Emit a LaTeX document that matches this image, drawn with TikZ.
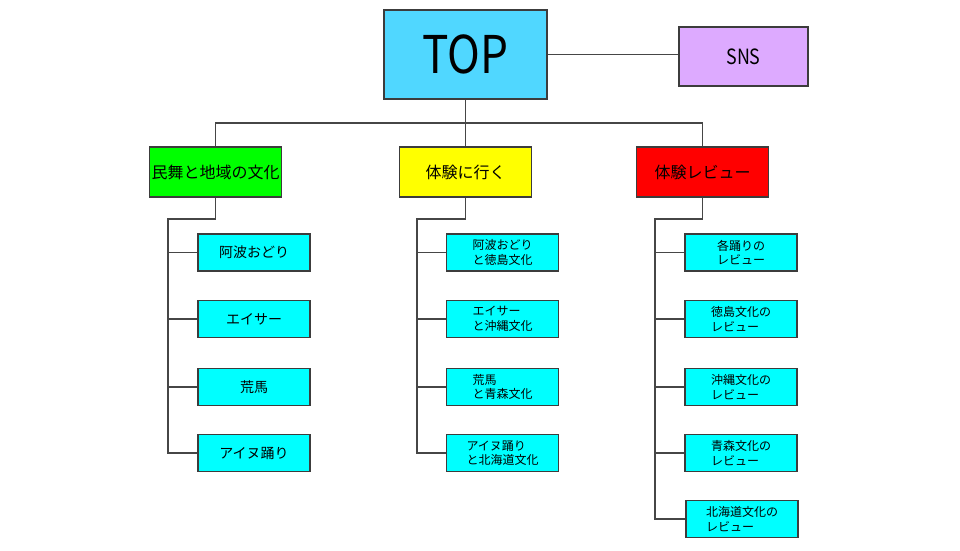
\documentclass[tikz,border=0pt]{standalone}
\usepackage{fontspec}
\usepackage{graphicx}
\setmainfont{Noto Sans CJK JP}
\definecolor{topblue}{RGB}{80,215,255}
\definecolor{snsviolet}{RGB}{221,170,255}
\definecolor{aqua}{RGB}{0,255,255}
\definecolor{lime}{RGB}{0,255,0}
\definecolor{brightyellow}{RGB}{255,255,0}
\definecolor{brightred}{RGB}{255,0,0}
\definecolor{bordergray}{RGB}{60,60,60}
\definecolor{linegray}{RGB}{70,70,70}
\tikzset{
  box/.style={draw=bordergray, line width=1.2pt, inner sep=0pt, anchor=center},
  leaf/.style={box, fill=aqua, minimum width=112pt, minimum height=37pt, font=\fontsize{14}{16}\selectfont},
  leaftwo/.style={box, fill=aqua, minimum width=112pt, minimum height=37pt, align=left, font=\fontsize{12}{14.5}\selectfont},
  cat/.style={box, minimum width=132pt, minimum height=50pt, font=\fontsize{16}{18}\selectfont},
  conn/.style={draw=linegray, line width=1.1pt}
}
\begin{document}
\begin{tikzpicture}[x=1pt,y=-1pt]
\useasboundingbox (0,0) rectangle (960,550);
\fill[white] (0,0) rectangle (960,550);
% top level
\node[box, fill=topblue, minimum width=163pt, minimum height=89pt, font=\fontsize{52}{56}\selectfont] (top) at (465.5,54.5) {\scalebox{0.85}[1]{TOP}};
\node[box, fill=snsviolet, minimum width=129pt, minimum height=59pt, font=\fontsize{21}{24}\selectfont] (sns) at (743.5,56.5) {\scalebox{0.85}[1]{SNS}};
% categories
\node[cat, fill=lime] (c1) at (215.5,172) {民舞と地域の文化};
\node[cat, fill=brightyellow] (c2) at (465.5,172) {体験に行く};
\node[cat, fill=brightred] (c3) at (702.5,172) {体験レビュー};
% left column
\node[leaf] (a1) at (254,252.5) {阿波おどり};
\node[leaf] (a2) at (254,319) {エイサー};
\node[leaf] (a3) at (254,387) {荒馬};
\node[leaf] (a4) at (254,453) {アイヌ踊り};
% middle column
\node[leaftwo] (b1) at (502.5,252.5) {阿波おどり\\と徳島文化};
\node[leaftwo] (b2) at (502.5,319) {エイサー\\と沖縄文化};
\node[leaftwo] (b3) at (502.5,387) {荒馬\\と青森文化};
\node[leaftwo] (b4) at (502.5,453) {アイヌ踊り\\と北海道文化};
% right column
\node[leaftwo] (r1) at (741,252.5) {各踊りの\\レビュー};
\node[leaftwo] (r2) at (741,319) {徳島文化の\\レビュー};
\node[leaftwo] (r3) at (741,387) {沖縄文化の\\レビュー};
\node[leaftwo] (r4) at (741,453) {青森文化の\\レビュー};
\node[leaftwo] (r5) at (742,519) {北海道文化の\\レビュー};
% connectors
\coordinate (hub) at (465.5,123);
\draw[conn] (top.east) -- (top.east -| sns.west);
\draw[conn] (top.south) -- (hub);
\draw[conn] (c1.north) |- (hub) -| (c3.north);
\draw[conn] (hub) -- (c2.north);
% left branch
\coordinate (l0) at (215.5,219);
\coordinate (l1) at (168,219);
\draw[conn] (c1.south) -- (l0) -- (l1) |- (a4.west);
\draw[conn] (l1) |- (a1.west);
\draw[conn] (l1) |- (a2.west);
\draw[conn] (l1) |- (a3.west);
% middle branch
\coordinate (m0) at (465.5,219);
\coordinate (m1) at (417,219);
\draw[conn] (c2.south) -- (m0) -- (m1) |- (b4.west);
\draw[conn] (m1) |- (b1.west);
\draw[conn] (m1) |- (b2.west);
\draw[conn] (m1) |- (b3.west);
% right branch
\coordinate (q0) at (702.5,219);
\coordinate (q1) at (655,219);
\draw[conn] (c3.south) -- (q0) -- (q1) |- (r5.west);
\draw[conn] (q1) |- (r1.west);
\draw[conn] (q1) |- (r2.west);
\draw[conn] (q1) |- (r3.west);
\draw[conn] (q1) |- (r4.west);
\end{tikzpicture}
\end{document}
